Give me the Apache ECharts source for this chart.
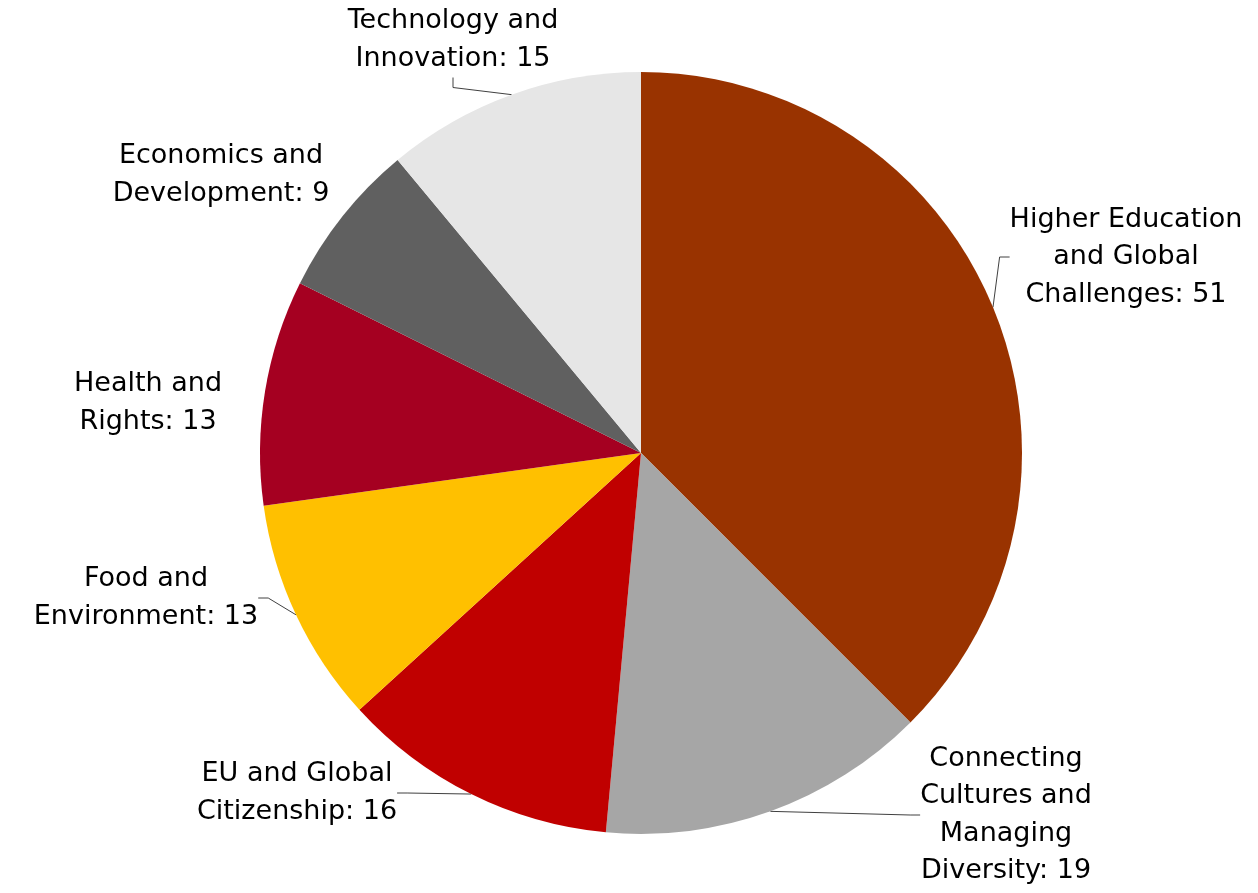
<!DOCTYPE html>
<html>
<head>
<meta charset="utf-8">
<style>
html,body{margin:0;padding:0;background:#fff;}
#chart{width:1258px;height:893px;}
</style>
<script src="https://cdn.jsdelivr.net/npm/echarts@6/dist/echarts.min.js"></script>
</head>
<body>
<div id="chart"></div>
<script>
// Data
const categories = [
  "Higher Education\nand Global\nChallenges",
  "Connecting\nCultures and\nManaging\nDiversity",
  "EU and Global\nCitizenship",
  "Food and\nEnvironment",
  "Health and\nRights",
  "Economics and\nDevelopment",
  "Technology and\nInnovation"
];
const values = [51, 19, 16, 13, 13, 9, 15];
const colors = ["#993300", "#A6A6A6", "#C00000", "#FFC000", "#A50021", "#606060", "#E6E6E6"];
const showLeader = [true, true, true, true, false, false, true];

// Label placement (layout, centre of each label block)
const labelPos = [
  [1126, 257], [1006, 815], [297, 793], [146, 598], [148, 403], [221, 175], [453, 40]
];

const chart = echarts.init(document.getElementById('chart'), null, {renderer: 'canvas'});
chart.setOption({
  animation: false,
  backgroundColor: '#ffffff',
  series: [{
    type: 'pie',
    center: [641, 453],
    radius: 381,
    startAngle: 90,
    clockwise: true,
    data: categories.map((c, i) => ({
      name: c, value: values[i],
      itemStyle: {color: colors[i]},
      labelLine: {show: showLeader[i]}
    })),
    label: {
      show: true,
      position: 'outside',
      formatter: p => p.name + ': ' + p.value,
      fontFamily: 'DejaVu Sans, sans-serif',
      fontSize: 27,
      lineHeight: 37.5,
      color: '#000',
      align: 'center',
      overflow: 'none'
    },
    labelLine: {
      show: true,
      length: 10,
      length2: 10,
      lineStyle: {color: '#404040', width: 1}
    },
    labelLayout: function (params) {
      const p = labelPos[params.dataIndex];
      return {x: p[0], y: p[1], align: 'center', verticalAlign: 'middle'};
    },
    emphasis: {disabled: true}
  }]
});
</script>
</body>
</html>
